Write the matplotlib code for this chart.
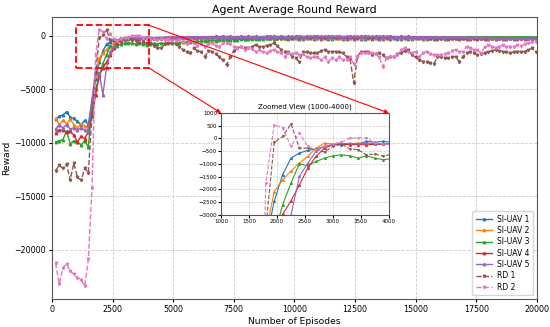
import numpy as np
import matplotlib
matplotlib.use("Agg")
import matplotlib.pyplot as plt
from matplotlib.patches import Rectangle, ConnectionPatch

# episodes 150, 300, ..., 19950
episodes = np.arange(150, 20001, 150)

si_uav_1 = [
    -7800, -7500, -7400, -7100, -7600, -7700, -8000, -8300, -7900, -8300,
    -6000, -4000, -2470, -1420, -770, -570, -470, -410, -310, -245,
    -245, -220, -220, -110, -150, -110, -150, -180, -200, -170,
    -180, -200, -190, -220, -210, -200, -230, -190, -210, -200,
    -220, -200, -180, -210, -230, -200, -190, -220, -210, -240,
    -200, -220, -250, -210, -230, -200, -240, -220, -210, -230,
    -250, -230, -210, -240, -260, -220, -230, -250, -270, -240,
    -220, -250, -240, -260, -230, -250, -280, -240, -230, -260,
    -250, -230, -260, -240, -270, -250, -230, -260, -240, -250,
    -260, -240, -250, -230, -270, -250, -240, -260, -250, -230,
    -240, -260, -250, -230, -250, -270, -240, -250, -260, -240,
    -230, -250, -240, -260, -250, -230, -250, -240, -260, -250,
    -240, -250, -230, -260, -250, -240, -250, -260, -240, -250,
    -230, -250, -240,
]
si_uav_2 = [
    -7700, -8300, -7900, -8200, -7800, -8300, -8600, -8200, -8400, -8600,
    -7000, -3700, -2080, -1620, -1270, -965, -700, -375, -180, -220,
    -200, -210, -180, -200, -230, -220, -200, -210, -220, -200,
    -190, -210, -180, -200, -190, -170, -200, -210, -180, -190,
    -200, -180, -190, -210, -170, -190, -200, -180, -190, -170,
    -180, -190, -170, -200, -180, -160, -190, -170, -180, -190,
    -170, -180, -160, -190, -170, -180, -160, -170, -190, -180,
    -160, -170, -180, -160, -170, -150, -180, -170, -160, -170,
    -170, -160, -150, -170, -180, -160, -170, -150, -160, -170,
    -150, -160, -170, -160, -150, -170, -160, -180, -160, -150,
    -160, -170, -150, -160, -180, -160, -150, -170, -160, -180,
    -170, -160, -150, -170, -160, -180, -170, -160, -150, -170,
    -160, -170, -180, -160, -150, -170, -160, -180, -170, -160,
    -170, -160, -200,
]
si_uav_3 = [
    -9900, -9800, -9700, -8900, -10100, -9800, -9900, -10200, -9800, -10400,
    -6500, -5000, -3800, -2600, -1750, -990, -1070, -900, -770, -680,
    -640, -680, -770, -680, -770, -830, -790, -700, -720, -680,
    -700, -690, -650, -700, -620, -600, -580, -560, -540, -520,
    -500, -480, -470, -450, -430, -420, -400, -380, -370, -350,
    -340, -320, -310, -300, -280, -270, -260, -250, -240, -230,
    -220, -200, -190, -170, -160, -150, -140, -150, -130, -120,
    -130, -110, -120, -100, -130, -110, -90, -120, -100, -110,
    -100, -120, -90, -110, -100, -80, -110, -100, -90, -110,
    -100, -90, -110, -80, -100, -110, -90, -100, -80, -100,
    -90, -110, -100, -80, -100, -90, -110, -90, -100, -80,
    -100, -90, -110, -100, -80, -100, -90, -110, -100, -90,
    -100, -80, -110, -90, -100, -110, -90, -100, -80, -100,
    -90, -110, -100,
]
si_uav_4 = [
    -9100, -8800, -8800, -9000, -8900, -9300, -9900, -9400, -9600, -9000,
    -7500, -5500, -3700, -2970, -2450, -1820, -1160, -700, -375, -245,
    -220, -245, -240, -250, -230, -220, -200, -180, -150, -160,
    -150, -140, -130, -120, -130, -110, -100, -90, -100, -80,
    -70, -80, -60, -70, -50, -60, -40, -60, -50, -70,
    -60, -50, -70, -40, -60, -50, -70, -60, -50, -40,
    -50, -60, -40, -70, -50, -60, -50, -40, -60, -50,
    -60, -40, -50, -70, -60, -50, -40, -60, -50, -70,
    -60, -50, -70, -60, -40, -50, -60, -70, -50, -60,
    -50, -60, -40, -60, -70, -50, -60, -50, -70, -60,
    -100, -120, -130, -150, -140, -160, -150, -140, -160, -150,
    -160, -150, -170, -160, -150, -170, -160, -170, -150, -160,
    -170, -160, -150, -170, -180, -160, -170, -160, -180, -170,
    -160, -170, -180,
]
si_uav_5 = [
    -8700, -8300, -8600, -8300, -8700, -8600, -8800, -8600, -8800, -8900,
    -6000, -3200, -3500, -5500, -3000, -1490, -965, -500, -310, -245,
    -200, -190, -210, -180, -200, -210, -190, -170, -160, -150,
    -140, -130, -150, -120, -130, -110, -120, -100, -110, -90,
    -100, -90, -80, -100, -90, -80, -70, -90, -80, -70,
    -80, -70, -60, -80, -70, -60, -80, -70, -60, -70,
    -60, -70, -50, -60, -70, -50, -60, -40, -60, -50,
    -50, -40, -60, -50, -40, -60, -50, -40, -50, -60,
    -50, -60, -40, -50, -60, -50, -40, -50, -60, -50,
    -60, -50, -70, -60, -80, -70, -90, -80, -100, -90,
    -100, -110, -100, -120, -110, -130, -120, -110, -130, -120,
    -130, -120, -140, -130, -150, -140, -130, -150, -140, -150,
    -160, -150, -170, -160, -180, -170, -160, -180, -190, -180,
    -200, -190, -210,
]
rd_1 = [
    -12600, -12100, -12400, -12000, -13500, -11900, -13200, -13500, -12400, -12800,
    -7400, -3500, -150, 80, 570, -375, -380, -440, -530, -310,
    -220, -400, -440, -640, -610, -700, -620, -900, -1100, -1150,
    -800, -700, -650, -750, -1000, -1300, -1500, -1620, -1150, -1400,
    -1500, -1930, -1450, -1460, -1700, -1930, -2300, -2720, -1930, -1400,
    -1150, -1000, -1100, -1150, -1000, -840, -1000, -1000, -900, -840,
    -685, -900, -1300, -1460, -1500, -1930, -2100, -2400, -1460, -1550,
    -1620, -1620, -1620, -1400, -1310, -1460, -1460, -1460, -1500, -1620,
    -1930, -2200, -4400, -1930, -1460, -1460, -1460, -1780, -1700, -1620,
    -1800, -2090, -1930, -1930, -1700, -1620, -1400, -1310, -1780, -2000,
    -2245, -2400, -2450, -2560, -2650, -1930, -2000, -2090, -2090, -2000,
    -1930, -2400, -1930, -1600, -1460, -1600, -1780, -1700, -1620, -1500,
    -1400, -1310, -1400, -1460, -1550, -1620, -1500, -1460, -1460, -1460,
    -1300, -1150, -1460,
]
rd_2 = [
    -21250, -23200, -21700, -21300, -22000, -22300, -22600, -22800, -23400, -20900,
    -14200, -1750, 540, 410, -310, 215, -310, -450, -300, -200,
    -150, 20, 20, 20, -180, -220, -245, -300, -400, -250,
    -350, -300, -500, -450, -350, -600, -800, -500, -700, -900,
    -800, -1000, -750, -700, -900, -1000, -700, -650, -800, -1000,
    -1150, -1000, -1300, -1150, -1200, -1460, -1300, -1500, -1620, -1400,
    -1300, -1460, -1620, -1930, -1620, -1700, -1620, -1780, -1700, -1930,
    -2090, -1930, -2000, -2245, -2000, -2400, -2090, -2245, -2000, -2245,
    -2245, -2000, -2600, -1930, -1620, -1620, -1620, -1620, -1700, -2000,
    -2870, -2090, -1930, -1930, -1800, -1310, -1150, -1500, -1600, -1460,
    -1930, -1620, -1460, -1700, -1780, -1780, -1780, -1700, -1620, -1400,
    -1310, -1460, -1460, -1000, -1150, -1300, -1310, -1620, -1000, -840,
    -1000, -1150, -1000, -840, -1000, -1000, -1000, -840, -900, -800,
    -685, -600, -530,
]

labels = ["SI-UAV 1", "SI-UAV 2", "SI-UAV 3", "SI-UAV 4", "SI-UAV 5", "RD 1", "RD 2"]
series = [si_uav_1, si_uav_2, si_uav_3, si_uav_4, si_uav_5, rd_1, rd_2]
colors = ["tab:blue", "tab:orange", "tab:green", "tab:red", "tab:purple", "tab:brown", "tab:pink"]


def draw(axis, ms, lw):
    for i, (lab, y) in enumerate(zip(labels, series)):
        if lab.startswith("RD"):
            axis.plot(episodes, y, linestyle="--", marker="v", markersize=ms,
                      linewidth=lw, color=colors[i], label=lab)
        else:
            axis.plot(episodes, y, linestyle="-", marker="^", markersize=ms,
                      linewidth=lw, color=colors[i], label=lab)


fig = plt.figure(figsize=(5.5, 3.27), dpi=100)
ax = fig.add_axes([0.0945, 0.086, 0.8815, 0.862])
draw(ax, 1.8, 1.0)
ax.set_xlim(0, 20000)
ax.set_xticks(np.arange(0, 20001, 2500))
ax.set_title("Agent Average Round Reward", fontsize=7.9, pad=3)
ax.set_xlabel("Number of Episodes", fontsize=6.6, labelpad=2)
ax.set_ylabel("Reward", fontsize=6.6, labelpad=2)
ax.tick_params(labelsize=5.7, length=2.5, pad=2)
ax.grid(True, linestyle="--", color="#cccccc", linewidth=0.6)
for s in ax.spines.values():
    s.set_color("#555555")
ax.legend(loc="lower right", fontsize=5.5, handlelength=2.2, labelspacing=0.3,
          borderpad=0.45, handletextpad=0.6)

# dashed zoom box
ax.add_patch(Rectangle((1000, -3000), 3000, 4000, fill=False, edgecolor="red",
                       linestyle="--", linewidth=1.3, zorder=10))

axins = fig.add_axes([0.402, 0.3425, 0.305, 0.312])
draw(axins, 1.2, 0.8)
axins.set_xlim(1000, 4000)
axins.set_ylim(-3000, 1000)
axins.set_xticks(np.arange(1000, 4001, 500))
axins.set_yticks(np.arange(-3000, 1001, 500))
axins.tick_params(labelsize=4.0, length=2, pad=1)
axins.grid(True, linestyle="--", color="#cccccc", linewidth=0.5)
axins.set_title("Zoomed View (1000-4000)", fontsize=5.0, pad=3)
for s in axins.spines.values():
    s.set_color("#555555")

for xyA, xyB in [((4000, 1000), (1, 1)), ((4000, -3000), (0, 1))]:
    con = ConnectionPatch(xyA=xyA, coordsA=ax.transData, xyB=xyB, coordsB=axins.transAxes,
                          arrowstyle="-|>", mutation_scale=6, color="red", linewidth=0.8)
    fig.add_artist(con)

fig.savefig("out.png", dpi=100)
